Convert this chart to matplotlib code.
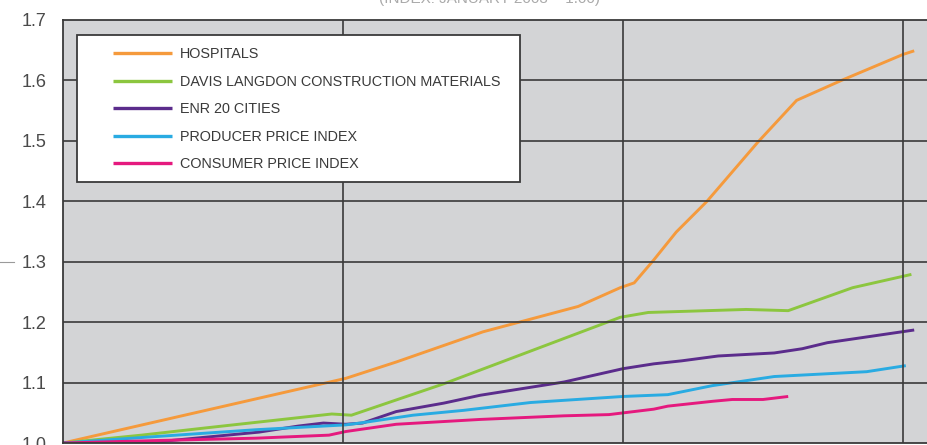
import matplotlib
matplotlib.use("Agg")
import matplotlib.pyplot as plt
from matplotlib import font_manager
from matplotlib.patches import Rectangle
from matplotlib.lines import Line2D

# ---------------- data ----------------
series_names = ["HOSPITALS", "DAVIS LANGDON CONSTRUCTION MATERIALS", "ENR 20 CITIES",
                "PRODUCER PRICE INDEX", "CONSUMER PRICE INDEX"]

hosp_x = [2003.00, 2004.01, 2004.19, 2004.50, 2004.84, 2004.99, 2005.04, 2005.11, 2005.19,
          2005.30, 2005.48, 2005.62, 2005.78, 2006.00, 2006.04]
hosp_y = [1.000, 1.107, 1.134, 1.184, 1.226, 1.257, 1.265, 1.303, 1.349,
          1.400, 1.497, 1.567, 1.600, 1.643, 1.649]

davis_x = [2003.00, 2003.28, 2003.51, 2003.96, 2004.03, 2004.36, 2004.99, 2005.09,
           2005.44, 2005.59, 2005.82, 2006.03]
davis_y = [1.000, 1.013, 1.025, 1.048, 1.046, 1.098, 1.208, 1.216,
           1.221, 1.219, 1.257, 1.279]

enr_x = [2003.00, 2003.36, 2003.70, 2003.84, 2003.93, 2004.01, 2004.07, 2004.19, 2004.36,
         2004.49, 2004.64, 2004.79, 2005.00, 2005.11, 2005.21, 2005.34, 2005.54, 2005.64,
         2005.73, 2006.04]
enr_y = [1.000, 1.003, 1.018, 1.028, 1.033, 1.031, 1.033, 1.052, 1.066,
         1.079, 1.090, 1.101, 1.123, 1.131, 1.136, 1.144, 1.149, 1.156,
         1.166, 1.187]

ppi_x = [2003.00, 2003.31, 2003.69, 2004.01, 2004.06, 2004.25, 2004.43, 2004.67, 2005.00,
         2005.16, 2005.32, 2005.54, 2005.87, 2006.01]
ppi_y = [1.000, 1.010, 1.022, 1.030, 1.033, 1.046, 1.054, 1.067, 1.077,
         1.080, 1.095, 1.110, 1.118, 1.128]

cpi_x = [2003.00, 2003.33, 2003.69, 2003.95, 2004.01, 2004.19, 2004.49, 2004.79, 2004.95,
         2005.11, 2005.16, 2005.32, 2005.39, 2005.50, 2005.59]
cpi_y = [1.000, 1.004, 1.008, 1.013, 1.019, 1.031, 1.039, 1.045, 1.047,
         1.056, 1.061, 1.069, 1.072, 1.072, 1.077]

y_ticks = [1.0, 1.1, 1.2, 1.3, 1.4, 1.5, 1.6, 1.7]
y_tick_labels = ["1.0", "1.1", "1.2", "1.3", "1.4", "1.5", "1.6", "1.7"]
x_grid = [2004, 2005, 2006]
title_text = "(INDEX: JANUARY 2003 = 1.00)"

colors = ["#F59A3C", "#8CC63F", "#5B2C8C", "#29ABE2", "#E5197E"]

# ---------------- fonts ----------------
avail = {f.name for f in font_manager.fontManager.ttflist}
narrow = "Liberation Sans Narrow" if "Liberation Sans Narrow" in avail else "Liberation Sans"
leg_size = 11.5 if narrow == "Liberation Sans Narrow" else 10.4

# ---------------- figure ----------------
W, H = 928, 445
fig = plt.figure(figsize=(W / 100, H / 100), dpi=100)
ax_left, ax_right, ax_top, ax_bottom = 63, 928, 20, 443
ax = fig.add_axes([ax_left / W, 1 - ax_bottom / H, (ax_right - ax_left) / W, (ax_bottom - ax_top) / H])
ax.set_facecolor("#D3D4D6")

xs = [hosp_x, davis_x, enr_x, ppi_x, cpi_x]
ys = [hosp_y, davis_y, enr_y, ppi_y, cpi_y]
handles = []
for x, y, c, n in zip(xs, ys, colors, series_names):
    h, = ax.plot(x, y, color=c, lw=2.1, label=n, zorder=2, solid_capstyle="butt")
    handles.append(h)

ax.set_xlim(2003.0, 2003.0 + (ax_right - ax_left) / 280)
ax.set_ylim(1.0, 1.7)

grid_col = "#3A3A3A"
for yv in y_ticks[1:-1]:
    ax.axhline(yv, color=grid_col, lw=1.2, zorder=3)
for xv in x_grid:
    ax.axvline(xv, color=grid_col, lw=1.2, zorder=3)

for s in ["left", "top", "bottom"]:
    ax.spines[s].set_color(grid_col)
    ax.spines[s].set_linewidth(1.3)
    ax.spines[s].set_zorder(3)
ax.spines["right"].set_visible(False)

ax.set_xticks([])
ax.set_yticks(y_ticks)
ax.set_yticklabels(y_tick_labels, fontsize=13, color="#4A4A4A", fontfamily="Liberation Sans")
ax.tick_params(axis="y", length=0, pad=12)

# legend box
x0 = (77 - ax_left) / (ax_right - ax_left)
x1 = (520 - ax_left) / (ax_right - ax_left)
y0 = (ax_bottom - 182) / (ax_bottom - ax_top)
y1 = (ax_bottom - 35) / (ax_bottom - ax_top)
ax.add_patch(Rectangle((x0, y0), x1 - x0, y1 - y0, transform=ax.transAxes,
                       facecolor="white", edgecolor=grid_col, lw=1.3, zorder=4))
fs_px = leg_size * 100 / 72
leg = ax.legend(handles=handles, loc="upper left",
                bbox_to_anchor=((113 - ax_left) / (ax_right - ax_left), (ax_bottom - 47.5) / (ax_bottom - ax_top)),
                frameon=False, borderpad=0, borderaxespad=0,
                prop={"family": narrow, "size": leg_size},
                handlelength=59 / fs_px, handletextpad=8 / fs_px, labelspacing=13.4 / fs_px)
leg.set_zorder(5)
for t in leg.get_texts():
    t.set_color("#3A3A3A")
for l in leg.get_lines():
    l.set_linewidth(2.4)

# cut-off title at very top
fig.text(0.527, 1 - 2.5 / H, title_text, ha="center", va="baseline", fontsize=11,
         color="#AAAAAA", fontfamily=narrow)
# small stray tick mark at left
fig.add_artist(Line2D([0 / W, 14 / W], [1 - 262 / H, 1 - 262 / H], color="#9A9A9A", lw=0.8))

fig.savefig("out.png", dpi=100, facecolor="white")
